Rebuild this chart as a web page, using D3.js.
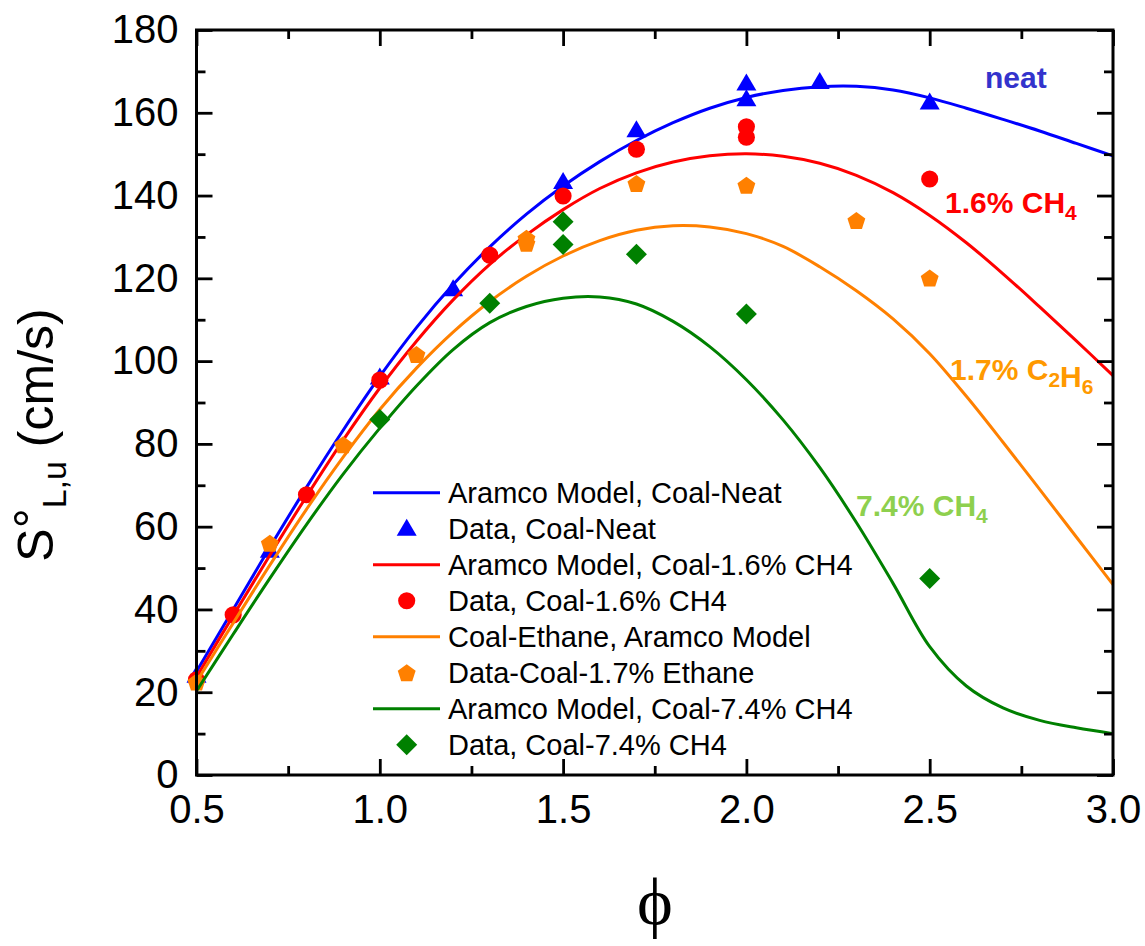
<!DOCTYPE html>
<html>
<head>
<meta charset="utf-8">
<script src="https://cdn.jsdelivr.net/npm/d3@7"></script>
<style>
  body { margin: 0; background: #fff; }
  svg { display: block; }
  text { font-family: "Liberation Sans", Arial, sans-serif; }
</style>
</head>
<body>
<div id="chart"></div>
<script>
// model curves, sampled every 0.1 in phi
const phiGrid = [0.5, 0.6, 0.7, 0.8, 0.9, 1.0, 1.1, 1.2, 1.3, 1.4, 1.5, 1.6, 1.7, 1.8, 1.9,
                 2.0, 2.1, 2.2, 2.3, 2.4, 2.5, 2.6, 2.7, 2.8, 2.9, 3.0];
const neatModel = [25, 40, 55, 69.5, 83.3, 96.3, 108.1, 118.5, 127.6, 135.5, 142.3, 148.2, 153.3, 157.6, 161.1,
                   163.7, 165.4, 166.3, 166.4, 165.5, 163.6, 161.1, 158.4, 155.6, 152.6, 149.6];
const ch4Model = [23.7, 38.5, 53.1, 67.3, 80.9, 93.5, 104.8, 114.8, 123.4, 130.5, 136.6, 141.7, 145.5, 148.1, 149.6,
                  150.1, 149.5, 147.8, 144.9, 140.7, 135.2, 128.6, 121.1, 113.1, 104.9, 96.5];
const ethaneModel = [22.5, 36.7, 50.7, 64.2, 76.8, 88.3, 98.3, 107, 114.4, 120.5, 125.4, 129.1, 131.6, 132.7, 132.4,
                     130.8, 127.7, 122.8, 117, 110.2, 101.8, 91.5, 80.4, 69, 57.5, 46];
const ch4HighModel = [20.3, 34, 47.5, 60.5, 72.7, 83.8, 94, 102.8, 109.3, 113.2, 115.2, 115.5, 113.8, 109.6, 103.5,
                      95.5, 85.8, 74.3, 61, 46.3, 31, 21.5, 16.2, 13.2, 11.4, 10];

// measured data
const neatPhi = [0.5, 0.7, 1.0, 1.2, 1.5, 1.7, 2.0, 2.0, 2.2, 2.5];
const neatData = [24, 54.2, 96.1, 117.4, 143.3, 155.8, 167.1, 163.3, 167.5, 162.5];
const ch4Phi = [0.5, 0.6, 0.8, 1.0, 1.3, 1.5, 1.7, 2.0, 2.0, 2.5];
const ch4Data = [23, 38.7, 67.7, 95.4, 125.6, 139.9, 151.2, 156.6, 154.1, 144];
const ethanePhi = [0.5, 0.7, 0.9, 1.1, 1.4, 1.4, 1.7, 2.0, 2.3, 2.5];
const ethaneData = [22.5, 56, 79.8, 101.6, 128.5, 129.7, 142.9, 142.5, 134, 120.1];
const ch4HighPhi = [1.0, 1.3, 1.5, 1.5, 1.7, 2.0, 2.5];
const ch4HighData = [85.9, 114, 133.7, 128.2, 125.8, 111.4, 47.5];

const xTicks = [0.5, 1.0, 1.5, 2.0, 2.5, 3.0];
const xMinor = [0.75, 1.25, 1.75, 2.25, 2.75];
const yTicks = [0, 20, 40, 60, 80, 100, 120, 140, 160, 180];
const yMinor = [10, 30, 50, 70, 90, 110, 130, 150, 170];

const legendLabels = ["Aramco Model, Coal-Neat", "Data, Coal-Neat",
  "Aramco Model, Coal-1.6% CH4", "Data, Coal-1.6% CH4",
  "Coal-Ethane, Aramco Model", "Data-Coal-1.7% Ethane",
  "Aramco Model, Coal-7.4% CH4", "Data, Coal-7.4% CH4"];

const width = 1145, height = 946;
const svg = d3.select("#chart").append("svg")
  .attr("width", width).attr("height", height);

const x = d3.scaleLinear().domain([0.5, 3.0]).range([196.5, 1113]);
const y = d3.scaleLinear().domain([0, 180]).range([775, 30]);

// pentagon symbol (flat bottom)
const symbolPentagon = {
  draw(ctx, size) {
    const r = Math.sqrt(size / 2.3776);
    for (let i = 0; i < 5; i++) {
      const a = -Math.PI / 2 + i * 2 * Math.PI / 5;
      const px = r * Math.cos(a), py = r * Math.sin(a) + r * 0.1;
      if (i === 0) ctx.moveTo(px, py); else ctx.lineTo(px, py);
    }
    ctx.closePath();
  }
};
const symbolDiamondSq = {
  draw(ctx, size) {
    const h = Math.sqrt(size / 2);
    ctx.moveTo(0, -h); ctx.lineTo(h, 0); ctx.lineTo(0, h); ctx.lineTo(-h, 0); ctx.closePath();
  }
};
const symbolTri = {
  draw(ctx, size) {
    // size = width of the triangle
    const w = size, h = size * 0.85;
    ctx.moveTo(0, -h * 0.58); ctx.lineTo(w / 2, h * 0.42); ctx.lineTo(-w / 2, h * 0.42); ctx.closePath();
  }
};

const series = [
  { model: neatModel, phi: neatPhi, data: neatData, color: "#0000ff", sym: d3.symbol(symbolTri, 20) },
  { model: ch4Model, phi: ch4Phi, data: ch4Data, color: "#ff0000", sym: d3.symbol(d3.symbolCircle, 230) },
  { model: ethaneModel, phi: ethanePhi, data: ethaneData, color: "#ff8000", sym: d3.symbol(symbolPentagon, 210) },
  { model: ch4HighModel, phi: ch4HighPhi, data: ch4HighData, color: "#008000", sym: d3.symbol(symbolDiamondSq, 220) }
];

const line = d3.line()
  .x((d, i) => x(phiGrid[i]))
  .y(d => y(d))
  .curve(d3.curveCatmullRom.alpha(0.5));

const plot = svg.append("g");
series.forEach(s => {
  plot.append("path")
    .attr("d", line(s.model))
    .attr("fill", "none")
    .attr("stroke", s.color)
    .attr("stroke-width", 3);
  plot.selectAll(null)
    .data(s.data)
    .enter()
    .append("path")
    .attr("d", s.sym)
    .attr("transform", (d, i) => "translate(" + x(s.phi[i]) + "," + y(d) + ")")
    .attr("fill", s.color);
});

// axes, ticks pointing inward on all four sides
function styleAxis(g) {
  g.select(".domain").remove();
  g.selectAll(".tick line").attr("stroke", "#000").attr("stroke-width", 2.8);
  g.selectAll("text").attr("fill", "#000").style("font-size", "40px");
}
svg.append("g").attr("transform", "translate(0,775)")
  .call(d3.axisBottom(x).tickValues(xTicks).tickSize(-16).tickPadding(20).tickFormat(d3.format(".1f")))
  .call(styleAxis);
svg.append("g").attr("transform", "translate(0,775)")
  .call(d3.axisBottom(x).tickValues(xMinor).tickSize(-9).tickFormat(""))
  .call(styleAxis);
svg.append("g").attr("transform", "translate(0,30)")
  .call(d3.axisTop(x).tickValues(xTicks).tickSize(-16).tickFormat(""))
  .call(styleAxis);
svg.append("g").attr("transform", "translate(0,30)")
  .call(d3.axisTop(x).tickValues(xMinor).tickSize(-9).tickFormat(""))
  .call(styleAxis);
svg.append("g").attr("transform", "translate(196.5,0)")
  .call(d3.axisLeft(y).tickValues(yTicks).tickSize(-16).tickPadding(18).tickFormat(d3.format("d")))
  .call(styleAxis);
svg.append("g").attr("transform", "translate(196.5,0)")
  .call(d3.axisLeft(y).tickValues(yMinor).tickSize(-9).tickFormat(""))
  .call(styleAxis);
svg.append("g").attr("transform", "translate(1113,0)")
  .call(d3.axisRight(y).tickValues(yTicks).tickSize(-16).tickFormat(""))
  .call(styleAxis);
svg.append("g").attr("transform", "translate(1113,0)")
  .call(d3.axisRight(y).tickValues(yMinor).tickSize(-9).tickFormat(""))
  .call(styleAxis);

svg.append("rect")
  .attr("x", 196.5).attr("y", 30)
  .attr("width", 1113 - 196.5).attr("height", 775 - 30)
  .attr("fill", "none").attr("stroke", "#000").attr("stroke-width", 3);

// axis titles
const yTitle = svg.append("text")
  .attr("transform", "translate(53,435) rotate(-90)")
  .attr("text-anchor", "middle")
  .style("font-size", "50px");
yTitle.append("tspan").text("S");
yTitle.append("tspan").attr("dy", -4).text("°");
yTitle.append("tspan").attr("dy", 17).style("font-size", "34px").text("L,u");
yTitle.append("tspan").attr("dy", -13).text(" (cm/s)");

svg.append("text")
  .attr("x", 655).attr("y", 925)
  .attr("text-anchor", "middle")
  .style("font-family", "'Liberation Serif', 'Times New Roman', serif")
  .style("font-size", "68px")
  .text("ϕ");

// legend
const legend = svg.append("g");
legendLabels.forEach((label, i) => {
  const s = series[Math.floor(i / 2)];
  const cy = 492.7 + i * 36;
  if (i % 2 === 0) {
    legend.append("line")
      .attr("x1", 373).attr("x2", 440).attr("y1", cy).attr("y2", cy)
      .attr("stroke", s.color).attr("stroke-width", 3);
  } else {
    legend.append("path")
      .attr("d", s.sym)
      .attr("transform", "translate(406.7," + cy + ")")
      .attr("fill", s.color);
  }
  legend.append("text")
    .attr("x", 448).attr("y", cy + 10.5)
    .style("font-size", "29px")
    .text(label);
});

// in-plot labels
function addLabel(px, py, color, parts) {
  const t = svg.append("text").attr("x", px).attr("y", py)
    .attr("fill", color).style("font-size", "30px").style("font-weight", "bold");
  parts.forEach(p => {
    if (p.sub) {
      t.append("tspan").attr("dy", 7).style("font-size", "21px").text(p.sub);
      t.append("tspan").attr("dy", -7).text("");
    } else {
      t.append("tspan").text(p.t);
    }
  });
}
addLabel(985, 88, "#3333cc", [{ t: "neat" }]);
addLabel(945, 213, "#ff0000", [{ t: "1.6% CH" }, { sub: "4" }]);
addLabel(950, 380, "#ff9900", [{ t: "1.7% C" }, { sub: "2" }, { t: "H" }, { sub: "6" }]);
addLabel(856, 516, "#8ed04e", [{ t: "7.4% CH" }, { sub: "4" }]);
</script>
</body>
</html>
